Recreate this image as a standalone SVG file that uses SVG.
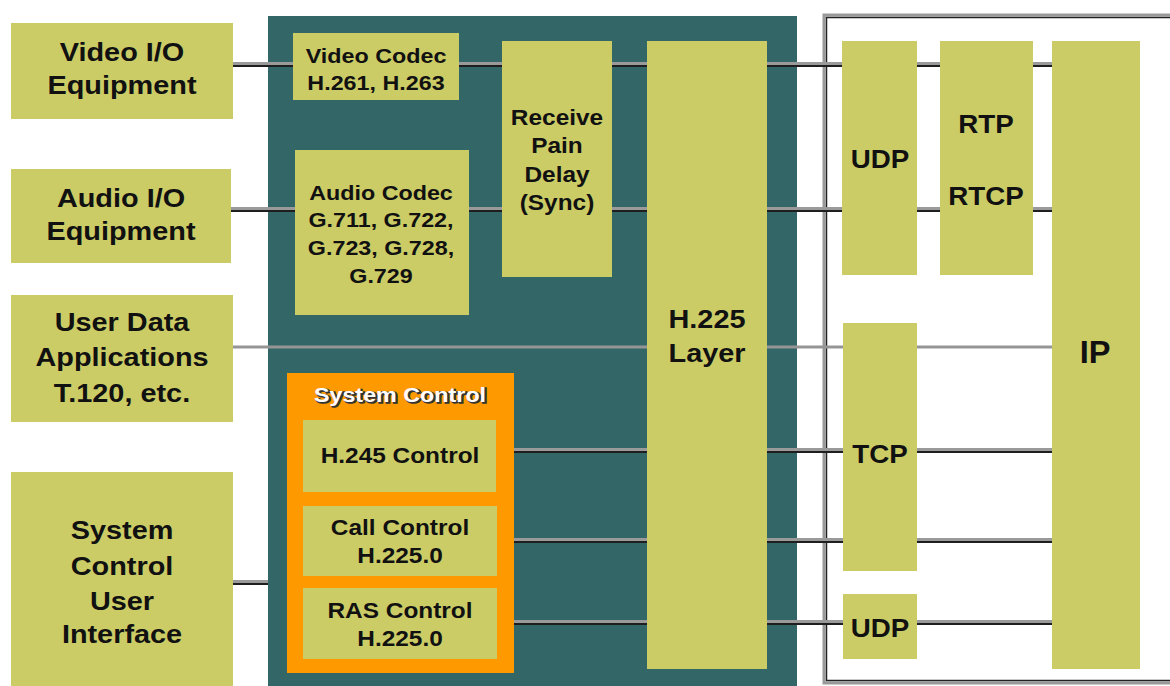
<svg xmlns="http://www.w3.org/2000/svg" width="1170" height="686" viewBox="0 0 1170 686">
<style>
.box{fill:#cccc66}
.t{font-family:"Liberation Sans",Arial,sans-serif;font-weight:bold;fill:#111;text-anchor:middle}
.s26{font-size:26px}.s25{font-size:25px}.s22{font-size:22px}.s21{font-size:21px}.s31{font-size:31px}
.lg{stroke:#9a9a9a;stroke-width:4;fill:none}
.lk{stroke:#1e1e1e;stroke-width:2;fill:none}
.ll{stroke:#959595;stroke-width:3;fill:none}
.title{font-family:"Liberation Sans",Arial,sans-serif;font-weight:bold;font-size:21px;text-anchor:middle}
</style>
<rect width="1170" height="686" fill="#ffffff"/>
<g id="terminal">
<rect x="268" y="16" width="529" height="680" fill="#336666"/>
</g>
<g id="network-frame">
<rect x="824" y="15" width="380" height="668" fill="none" stroke="#999" stroke-width="3"/>
<rect x="826.5" y="17.5" width="380" height="663" fill="none" stroke="#222" stroke-width="1.5"/>
</g>
<g id="connectors">
<path class="lg" d="M233 64H1052M231 209H1052M496 450H1052M497 540H1052M497 622H1052M233 582H268"/>
<path class="lk" d="M233 66H1052M231 211H1052M496 452H1052M497 542H1052M497 624H1052M233 584H268"/>
<path class="ll" d="M233 347H1052"/>
</g>
<g id="video-io"><rect class="box" x="11" y="23" width="222" height="96"/>
<text class="t s26" transform="translate(122 0) scale(1.11 1)"><tspan x="0" y="61">Video I/O</tspan><tspan x="0" y="94">Equipment</tspan></text></g>
<g id="audio-io"><rect class="box" x="11" y="169" width="220" height="94"/>
<text class="t s26" transform="translate(121 0) scale(1.11 1)"><tspan x="0" y="207">Audio I/O</tspan><tspan x="0" y="240">Equipment</tspan></text></g>
<g id="user-data"><rect class="box" x="11" y="295" width="222" height="127"/>
<text class="t s26" transform="translate(122 0) scale(1.11 1)"><tspan x="0" y="331">User Data</tspan><tspan x="0" y="366">Applications</tspan><tspan x="0" y="402">T.120, etc.</tspan></text></g>
<g id="system-ui"><rect class="box" x="11" y="472" width="222" height="220"/>
<text class="t s26" transform="translate(122 0) scale(1.11 1)"><tspan x="0" y="539">System</tspan><tspan x="0" y="575">Control</tspan><tspan x="0" y="610">User</tspan><tspan x="0" y="643">Interface</tspan></text></g>
<g id="video-codec"><rect class="box" x="293" y="33" width="166" height="67"/>
<text class="t s21" transform="translate(376 0) scale(1.11 1)"><tspan x="0" y="63">Video Codec</tspan><tspan x="0" y="90">H.261, H.263</tspan></text></g>
<g id="audio-codec"><rect class="box" x="295" y="150" width="174" height="165"/>
<text class="t s21" transform="translate(381 0) scale(1.11 1)"><tspan x="0" y="200">Audio Codec</tspan><tspan x="0" y="227">G.711, G.722,</tspan><tspan x="0" y="255">G.723, G.728,</tspan><tspan x="0" y="283">G.729</tspan></text></g>
<g id="receive-delay"><rect class="box" x="502" y="41" width="110" height="236"/>
<text class="t s22" transform="translate(557 0) scale(1.11 1)"><tspan x="0" y="125">Receive</tspan><tspan x="0" y="153">Pain</tspan><tspan x="0" y="182">Delay</tspan><tspan x="0" y="210">(Sync)</tspan></text></g>
<g id="h225-layer"><rect class="box" x="647" y="41" width="120" height="628"/>
<text class="t s26" transform="translate(707 0) scale(1.11 1)"><tspan x="0" y="328">H.225</tspan><tspan x="0" y="362">Layer</tspan></text></g>
<g id="system-control"><rect x="287" y="373" width="227" height="300" fill="#ff9900"/>
<text class="title" fill="#333" transform="translate(401.5 0) scale(1.11 1)" x="0" y="403.5" stroke="#333" stroke-width="1.5">System Control</text>
<text class="title" fill="#fff" transform="translate(400 0) scale(1.11 1)" x="0" y="402">System Control</text></g>
<g id="h245-control"><rect class="box" x="303" y="420" width="193" height="72"/>
<text class="t s22" transform="translate(400 0) scale(1.11 1)" x="0" y="463">H.245 Control</text></g>
<g id="call-control"><rect class="box" x="303" y="506" width="194" height="70"/>
<text class="t s22" transform="translate(400 0) scale(1.11 1)"><tspan x="0" y="535">Call Control</tspan><tspan x="0" y="563">H.225.0</tspan></text></g>
<g id="ras-control"><rect class="box" x="303" y="588" width="194" height="71"/>
<text class="t s22" transform="translate(400 0) scale(1.11 1)"><tspan x="0" y="618">RAS Control</tspan><tspan x="0" y="646">H.225.0</tspan></text></g>
<g id="udp-top"><rect class="box" x="842" y="41" width="75" height="234"/>
<text class="t s25" transform="translate(880 0) scale(1.11 1)" x="0" y="168">UDP</text></g>
<g id="rtp-rtcp"><rect class="box" x="940" y="41" width="93" height="234"/>
<text class="t s25" transform="translate(986 0) scale(1.11 1)"><tspan x="0" y="133">RTP</tspan><tspan x="0" y="205">RTCP</tspan></text></g>
<g id="ip"><rect class="box" x="1052" y="41" width="88" height="628"/>
<text class="t s31" transform="translate(1095 0) scale(1.05 1)" x="0" y="363">IP</text></g>
<g id="tcp"><rect class="box" x="843" y="323" width="74" height="248"/>
<text class="t s25" transform="translate(880 0) scale(1.11 1)" x="0" y="463">TCP</text></g>
<g id="udp-bottom"><rect class="box" x="843" y="594" width="74" height="65"/>
<text class="t s25" transform="translate(880 0) scale(1.11 1)" x="0" y="637">UDP</text></g>
</svg>
